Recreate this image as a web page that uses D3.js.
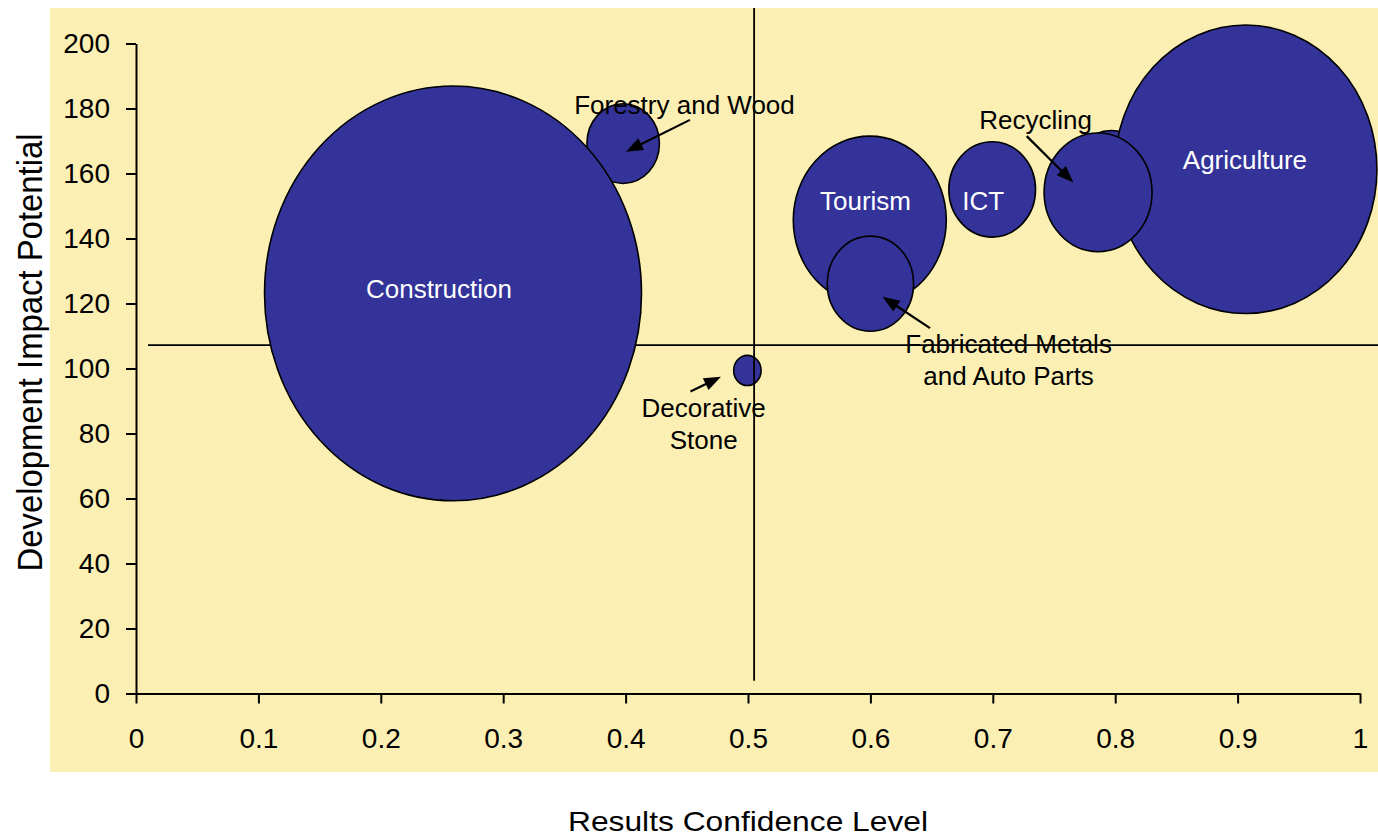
<!DOCTYPE html>
<html>
<head>
<meta charset="utf-8">
<script src="https://cdn.jsdelivr.net/npm/d3@7"></script>
<style>
  body { margin: 0; background: #ffffff; }
  svg { display: block; font-family: "Liberation Sans", Arial, Helvetica, sans-serif; }
</style>
</head>
<body>
<svg id="chart" width="1378" height="838"></svg>
<script>
// ---------------- data ----------------
// drawing order (later = on top)
const sectors     = ["Forestry and Wood", "Construction", "Decorative Stone", "Tourism",
                     "Fabricated Metals and Auto Parts", "ICT", "Other", "Agriculture", "Recycling"];
const confidence  = [0.398, 0.259, 0.4995, 0.5995, 0.600, 0.6995, 0.797, 0.9067, 0.786];
const impact      = [169.2, 123.1, 99.4, 145.6, 126.1, 155.1, 159.7, 161.3, 154.2];
const bubbleSize  = [3.70, 100, 0.528, 16.47, 5.25, 5.29, 4.5, 48.4, 8.2];

const xTicks      = [0, 0.1, 0.2, 0.3, 0.4, 0.5, 0.6, 0.7, 0.8, 0.9, 1];
const xTickLabels = ["0", "0.1", "0.2", "0.3", "0.4", "0.5", "0.6", "0.7", "0.8", "0.9", "1"];
const yTicks      = [0, 20, 40, 60, 80, 100, 120, 140, 160, 180, 200];

// quadrant reference lines
const crossX = 0.505, crossY = 107.2;

// labels written inside bubbles
const insideLabels = ["Construction", "Tourism", "ICT", "Agriculture"];
const insideX      = [0.2475, 0.596, 0.6922, 0.906];
const insideY      = [121.7, 148.8, 148.8, 161.4];

// call-out labels with arrows
const calloutLines = [["Forestry and Wood"], ["Recycling"], ["Fabricated Metals", "and Auto Parts"], ["Decorative", "Stone"]];
const calloutX     = [0.4481, 0.7349, 0.7129, 0.4638];
const calloutY     = [178.3, 173.8, 104.7, 85.0];
const arrowFromX   = [0.4526, 0.7277, 0.6487, 0.4530];
const arrowFromY   = [176.5, 171.5, 112.4, 92.9];
const arrowToX     = [0.4003, 0.7658, 0.6100, 0.4779];
const arrowToY     = [166.7, 157.2, 122.1, 97.5];

const xTitle = "Results Confidence Level";
const yTitle = "Development Impact Potential";

// ---------------- drawing ----------------
const svg = d3.select("#chart");
const x = d3.scaleLinear().domain([0, 1]).range([136, 1360]);
const y = d3.scaleLinear().domain([0, 200]).range([693.5, 43.5]);
const r = d3.scaleSqrt().domain([0, 100]).range([0, 188.5]);
const aspect = 1.1;

const bubbleFill = "#333399";
const panelFill = "#FCEFB4";

// panel background
svg.append("rect").attr("x", 50).attr("y", 8).attr("width", 1328).attr("height", 764).attr("fill", panelFill);

// horizontal reference line (under bubbles)
svg.append("line")
  .attr("x1", x(0.0098)).attr("x2", 1378)
  .attr("y1", y(crossY)).attr("y2", y(crossY))
  .attr("stroke", "#000").attr("stroke-width", 1.8);

// bubbles
const bubbles = sectors.map((s, i) => ({ s, cx: confidence[i], cy: impact[i], v: bubbleSize[i] }));
svg.append("g").selectAll("ellipse").data(bubbles).join("ellipse")
  .attr("cx", d => x(d.cx)).attr("cy", d => y(d.cy))
  .attr("rx", d => r(d.v)).attr("ry", d => r(d.v) * aspect)
  .attr("fill", bubbleFill).attr("stroke", "#000").attr("stroke-width", 1.6);

// vertical reference line (over bubbles)
svg.append("line")
  .attr("x1", x(crossX)).attr("x2", x(crossX))
  .attr("y1", 8).attr("y2", y(3.9))
  .attr("stroke", "#000").attr("stroke-width", 1.8);

// axes
const xAxis = d3.axisBottom(x).tickValues(xTicks).tickFormat((d, i) => xTickLabels[i])
  .tickSize(10).tickSizeOuter(0).tickPadding(24.5);
const yAxis = d3.axisLeft(y).tickValues(yTicks).tickFormat(d3.format("d"))
  .tickSize(10).tickSizeOuter(0).tickPadding(16);

const gx = svg.append("g").attr("transform", `translate(0,${y(0)})`).call(xAxis);
const gy = svg.append("g").attr("transform", `translate(${x(0)},0)`).call(yAxis);
[gx, gy].forEach(g => {
  g.select(".domain").attr("stroke", "#000").attr("stroke-width", 2);
  g.selectAll(".tick line").attr("stroke", "#000").attr("stroke-width", 2);
  g.selectAll(".tick text").attr("fill", "#000").style("font-size", "28px")
    .style("font-family", '"Liberation Sans", Arial, sans-serif');
});

// labels inside bubbles
svg.append("g").selectAll("text").data(insideLabels).join("text")
  .attr("x", (d, i) => x(insideX[i])).attr("y", (d, i) => y(insideY[i]))
  .attr("text-anchor", "middle").attr("fill", "#ffffff").style("font-size", "26px")
  .text(d => d);

// call-out labels
const cg = svg.append("g");
calloutLines.forEach((lines, i) => {
  const t = cg.append("text")
    .attr("text-anchor", "middle").attr("fill", "#000").style("font-size", "26px");
  lines.forEach((ln, j) => {
    t.append("tspan").attr("x", x(calloutX[i])).attr("y", y(calloutY[i]) + j * 31.3).text(ln);
  });
});

// arrows
const ag = svg.append("g");
calloutLines.forEach((_, i) => {
  const x1 = x(arrowFromX[i]), y1 = y(arrowFromY[i]);
  const x2 = x(arrowToX[i]),   y2 = y(arrowToY[i]);
  const ang = Math.atan2(y2 - y1, x2 - x1);
  const headLen = 17, headW = 6.5;
  const bx = x2 - headLen * Math.cos(ang), by = y2 - headLen * Math.sin(ang);
  ag.append("line").attr("x1", x1).attr("y1", y1).attr("x2", bx + 2 * Math.cos(ang)).attr("y2", by + 2 * Math.sin(ang))
    .attr("stroke", "#000").attr("stroke-width", 2.2);
  const px = -Math.sin(ang), py = Math.cos(ang);
  ag.append("path")
    .attr("d", `M${x2},${y2} L${bx + headW * px},${by + headW * py} L${bx - headW * px},${by - headW * py} Z`)
    .attr("fill", "#000");
});

// axis titles
svg.append("text")
  .attr("x", 748).attr("y", 831)
  .attr("text-anchor", "middle").attr("fill", "#000").style("font-size", "28px")
  .attr("textLength", 360).attr("lengthAdjust", "spacingAndGlyphs")
  .text(xTitle);

svg.append("text")
  .attr("transform", "translate(41.7,352.5) rotate(-90)")
  .attr("text-anchor", "middle").attr("fill", "#000").style("font-size", "35px")
  .attr("textLength", 438).attr("lengthAdjust", "spacingAndGlyphs")
  .text(yTitle);
</script>
</body>
</html>
